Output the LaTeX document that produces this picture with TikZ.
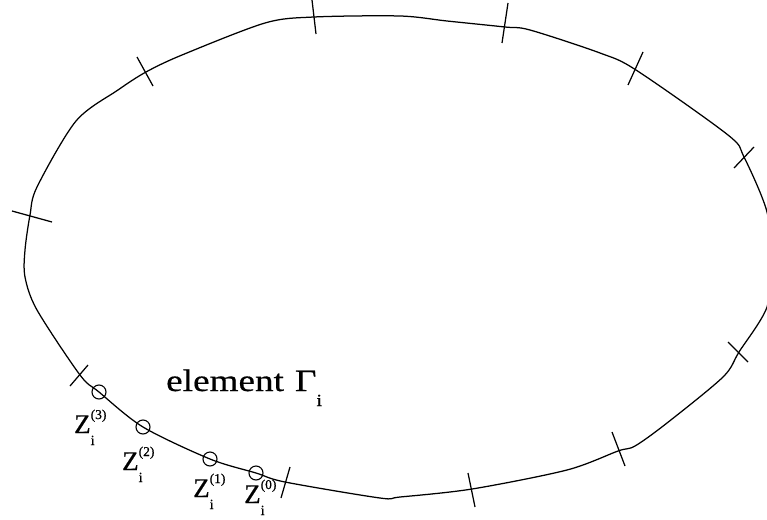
\documentclass[tikz,border=0pt]{standalone}
\usepackage{fontspec}
\setmainfont[FakeBold=0.4]{Liberation Serif}
\newfontfamily\widefont[FakeStretch=1.2,FakeBold=0.5]{Liberation Serif}
\newfontfamily\zfont[FakeBold=0.6]{Liberation Serif}
\newcommand{\zlabel}[1]{\zfont\fontsize{27}{27}\selectfont Z\rlap{\raisebox{14pt}{\fontsize{13.5}{13.5}\selectfont(#1)}}\raisebox{-12pt}{\fontsize{14}{14}\selectfont i}}
\begin{document}
\begin{tikzpicture}[x=1pt,y=-1pt,
  curve/.style={line width=1.25pt},
  tickmark/.style={line width=1.25pt},
  pt/.style={circle,draw,line width=1.1pt,minimum size=14pt,inner sep=0pt},
  zlab/.style={anchor=base west,inner sep=0pt}]
\useasboundingbox (0,0) rectangle (767,519);
\clip (0,0) rectangle (767,519);
\draw[curve] plot[smooth cycle,tension=0.5] coordinates {
  (265,23) (314,17) (400,16) (447,21) (505,27) (530,30) (600,53) (636,70)
  (728,135) (744,157) (767,212) (770,260) (767,307) (739,352) (723,377)
  (667,423) (635,446) (618,451) (567,470) (472,489) (400,497) (380,498)
  (285,482) (256,473) (210,459) (143,427) (99,392) (80,375) (37,310)
  (25,277) (25,250) (30,215) (37,187) (76,121) (118,90) (146,72) (182,55)};
% element boundary ticks
\draw[tickmark] (137,57) -- (153,86);
\draw[tickmark] (312,0) -- (316,34);
\draw[tickmark] (508,3) -- (502,43);
\draw[tickmark] (643,52) -- (628,85);
\draw[tickmark] (754,147) -- (734,168);
\draw[tickmark] (728,342) -- (748,362);
\draw[tickmark] (612,432) -- (625,466);
\draw[tickmark] (468,473) -- (475,507);
\draw[tickmark] (290,467) -- (281,498);
\draw[tickmark] (70,386) -- (88,365);
\draw[tickmark] (12,211) -- (52,222);
% collocation points
\node[pt] (z3) at (99,392) {};
\node[pt] (z2) at (143,427) {};
\node[pt] (z1) at (210,459) {};
\node[pt] (z0) at (256,473) {};
% labels
\node[zlab] (l3) at (74,433) {\zlabel{3}};
\node[zlab] (l2) at (122,470) {\zlabel{2}};
\node[zlab] (l1) at (193,497) {\zlabel{1}};
\node[zlab] (l0) at (244,503) {\zlabel{0}};
\node[anchor=base west,inner sep=0pt] (el) at (166,391)
  {\widefont\fontsize{31}{31}\selectfont element\hspace{11pt}Γ\raisebox{-15pt}{\fontsize{17}{17}\selectfont i}};
\end{tikzpicture}
\end{document}
